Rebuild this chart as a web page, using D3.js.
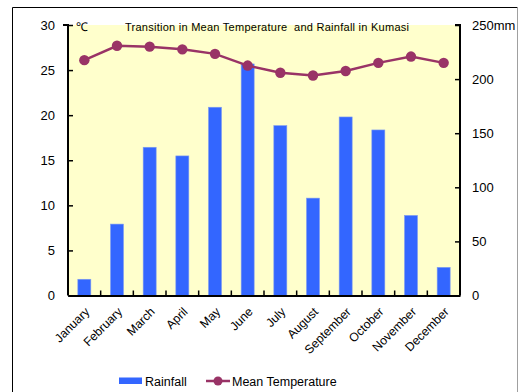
<!DOCTYPE html>
<html>
<head>
<meta charset="utf-8">
<script src="https://cdn.jsdelivr.net/npm/d3@7"></script>
<style>
  html, body { margin: 0; padding: 0; background: #fff; }
  svg { display: block; font-family: "Liberation Sans", Arial, sans-serif; }
</style>
</head>
<body>
<svg id="chart" width="519" height="392"></svg>
<script>
// Monthly climate figures for Kumasi
const months = ["January", "February", "March", "April", "May", "June",
                "July", "August", "September", "October", "November", "December"];
const rainfall = [15, 66, 137, 129, 174, 214, 157, 90, 165, 153, 74, 26];        // mm
const meanTemp = [26.1, 27.7, 27.6, 27.3, 26.8, 25.5, 24.7, 24.4, 24.9, 25.8, 26.5, 25.8]; // °C
const tempTicks = [0, 5, 10, 15, 20, 25, 30];
const rainTicks = [0, 50, 100, 150, 200, 250];

const svg = d3.select("#chart");
const W = 519, H = 392;
const m = { left: 68, right: 460, top: 25, bottom: 295.5 };

// Outer chart frame
svg.append("rect").attr("x", 0).attr("y", 0).attr("width", W).attr("height", H).attr("fill", "#fff");
svg.append("path")
  .attr("d", `M12.5,${H + 2} V7.5 H517.5`)
  .attr("fill", "none").attr("stroke", "#000").attr("stroke-width", 1);
svg.append("line")
  .attr("x1", 517.5).attr("x2", 517.5).attr("y1", 7.5).attr("y2", H + 2)
  .attr("stroke", "#a0a0a0").attr("stroke-width", 1);

const x = d3.scaleBand().domain(months).range([m.left, m.right]);
const yT = d3.scaleLinear().domain([0, 30]).range([m.bottom, m.top]);
const yR = d3.scaleLinear().domain([0, 250]).range([m.bottom, m.top]);

// Plot background
svg.append("rect")
  .attr("x", m.left).attr("y", m.top)
  .attr("width", m.right - m.left).attr("height", m.bottom - m.top)
  .attr("fill", "#FFFFCC");

// Rainfall bars
const barW = 13;
svg.append("g").selectAll("rect").data(months).join("rect")
  .attr("x", d => x(d) + x.bandwidth() / 2 - barW / 2)
  .attr("y", (d, i) => yR(rainfall[i]))
  .attr("width", barW)
  .attr("height", (d, i) => yR(0) - yR(rainfall[i]))
  .attr("fill", "#3366FF")
  .attr("stroke", "#7f9cf0").attr("stroke-width", 0.6);

// Temperature line with markers
const line = d3.line()
  .x((d, i) => x(months[i]) + x.bandwidth() / 2)
  .y(d => yT(d));
svg.append("path").datum(meanTemp)
  .attr("d", line)
  .attr("fill", "none").attr("stroke", "#993366").attr("stroke-width", 2.5);
svg.append("g").selectAll("circle").data(meanTemp).join("circle")
  .attr("cx", (d, i) => x(months[i]) + x.bandwidth() / 2)
  .attr("cy", d => yT(d))
  .attr("r", 5.2)
  .attr("fill", "#993366");

// Left axis (temperature), ticks pointing inward
const axL = svg.append("g").attr("transform", `translate(${m.left},0)`)
  .call(d3.axisLeft(yT).tickValues(tempTicks).tickSize(-5).tickPadding(13).tickFormat(d3.format("d")));
// Right axis (rainfall), ticks pointing inward
const axR = svg.append("g").attr("transform", `translate(${m.right},0)`)
  .call(d3.axisRight(yR).tickValues(rainTicks).tickSize(-5).tickPadding(12)
    .tickFormat(d => d === 250 ? "250mm" : d));
// Bottom axis: ticks between categories, pointing up
const axB = svg.append("g").attr("transform", `translate(0,${m.bottom})`)
  .call(d3.axisBottom(x).tickSize(0).tickFormat(""));
axB.selectAll(".tick").remove();
axB.append("g").selectAll("line").data(months.slice(1)).join("line")
  .attr("x1", d => x(d)).attr("x2", d => x(d))
  .attr("y1", 0).attr("y2", -5)
  .attr("stroke", "#000").attr("stroke-width", 1.5);

[axL, axR, axB].forEach(a => {
  a.select(".domain").attr("stroke", "#000").attr("stroke-width", 2);
  a.selectAll(".tick line").attr("stroke", "#000").attr("stroke-width", 1.5);
  a.selectAll("text").attr("font-size", 13).attr("fill", "#000")
    .attr("font-family", "'Liberation Sans', Arial, sans-serif");
});
axL.select(".domain").attr("d", `M-5,${m.top}H0V${m.bottom}`);
axR.select(".domain").attr("d", `M-5,${m.top}H0V${m.bottom}`);

// Month labels rotated
svg.append("g").selectAll("text").data(months).join("text")
  .attr("transform", d => `translate(${x(d) + x.bandwidth() / 2 + 6},${m.bottom + 17}) rotate(-45)`)
  .attr("text-anchor", "end")
  .attr("font-size", 12.2)
  .attr("fill", "#000")
  .text(d => d);

// Unit label and title
svg.append("text").attr("x", 76).attr("y", 31).attr("font-size", 12).text("℃");
svg.append("text").attr("x", 125).attr("y", 31).attr("font-size", 11)
  .attr("fill", "#000")
  .attr("textLength", 284).attr("lengthAdjust", "spacing")
  .text("Transition in Mean Temperature\u00a0 and Rainfall in Kumasi");

// Legend
const lg = svg.append("g");
lg.append("rect").attr("x", 119).attr("y", 377.5).attr("width", 23).attr("height", 6.5).attr("fill", "#3366FF");
lg.append("text").attr("x", 145).attr("y", 385.5).attr("font-size", 12.5).text("Rainfall");
lg.append("line").attr("x1", 206).attr("x2", 230).attr("y1", 381).attr("y2", 381)
  .attr("stroke", "#993366").attr("stroke-width", 2.5);
lg.append("circle").attr("cx", 218).attr("cy", 381).attr("r", 4.5).attr("fill", "#993366");
lg.append("text").attr("x", 232).attr("y", 385.5).attr("font-size", 12.5).text("Mean Temperature");
</script>
</body>
</html>
